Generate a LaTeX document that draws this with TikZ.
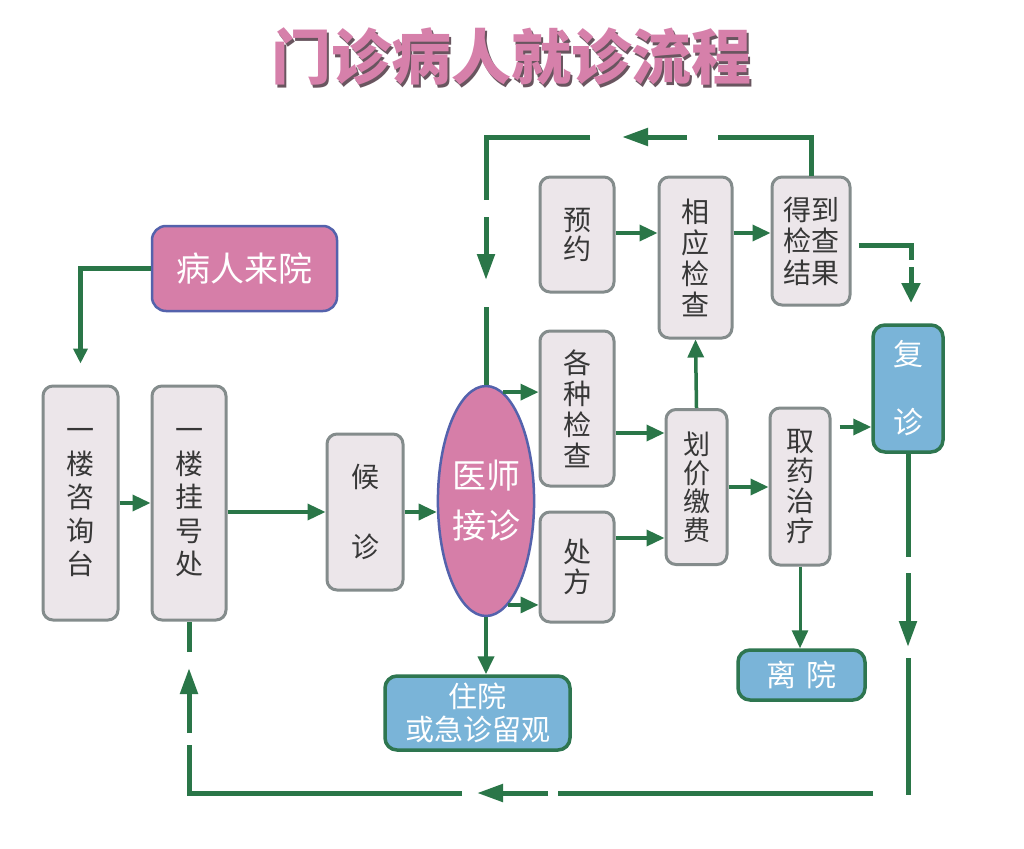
\documentclass[tikz,border=0pt]{standalone}
\usepackage{fontspec}
\newfontfamily\cjk{Noto Sans CJK SC}
\usetikzlibrary{arrows.meta,shapes.geometric}
\newcommand\fs[2]{\fontsize{#1}{#2}\selectfont}
\definecolor{lg}{RGB}{42,118,72}
\definecolor{gfill}{RGB}{236,230,234}
\definecolor{gborder}{RGB}{132,140,140}
\definecolor{gtext}{RGB}{55,55,55}
\definecolor{pfill}{RGB}{214,126,168}
\definecolor{pborder}{RGB}{84,98,172}
\definecolor{bfill}{RGB}{122,180,216}
\definecolor{bborder}{RGB}{46,118,80}
\definecolor{tpink}{RGB}{214,128,170}
\definecolor{tshadow}{RGB}{105,85,95}
\newcommand\shadowtext[1]{\makebox[0pt][l]{\hspace{2.5pt}\raisebox{-2.5pt}{\color{tshadow}#1}}#1}
\tikzset{
  gbox/.style={draw=gborder, fill=gfill, line width=3pt, rounded corners=10pt, inner sep=0pt, align=center, text=gtext},
  bbox/.style={draw=bborder, fill=bfill, line width=3.5pt, rounded corners=12pt, inner sep=0pt, align=center, text=white},
  pbox/.style={draw=pborder, fill=pfill, line width=2.5pt, inner sep=0pt, align=center, text=white},
  conn/.style={draw=lg, line width=3.5pt, -{Triangle[length=18pt,width=16pt]}},
  back/.style={draw=lg, line width=5pt},
  backarrow/.style={back, -{Triangle[length=26pt,width=17pt]}},
}
\begin{document}
\begin{tikzpicture}[x=1pt,y=-1pt]
\useasboundingbox[fill=white] (0,0) rectangle (1024,848);
% title
\node[font=\cjk\bfseries\fs{60}{62}, text=tpink] (title) at (511,58) {\shadowtext{门诊病人就诊流程}};
% nodes
\node[pbox, rounded corners=14pt, minimum width=185pt, minimum height=85pt, font=\cjk\fs{34}{40}] (br) at (244.5,268.5) {病人来院};
\node[gbox, minimum width=75pt, minimum height=234pt, font=\cjk\fs{28}{33.5}] (zx) at (80.5,503) {一\\楼\\咨\\询\\台};
\node[gbox, minimum width=74pt, minimum height=234pt, font=\cjk\fs{28}{33.5}] (gh) at (189,503) {一\\楼\\挂\\号\\处};
\node[gbox, minimum width=76pt, minimum height=156pt, font=\cjk\fs{28}{70}] (hz) at (365,512) {候\\诊};
\node[pbox, ellipse, minimum width=86pt, minimum height=230pt, font=\cjk\fs{34}{50}] (ys) at (486,501) {医师\\接诊};
\node[gbox, minimum width=74pt, minimum height=115pt, font=\cjk\fs{28}{29}] (yy) at (577,234.5) {预\\约};
\node[gbox, minimum width=73pt, minimum height=161pt, font=\cjk\fs{28}{31}] (xy) at (695.5,257.5) {相\\应\\检\\查};
\node[gbox, minimum width=78pt, minimum height=128pt, font=\cjk\fs{28}{31.5}] (dd) at (811,241) {得到\\检查\\结果};
\node[gbox, minimum width=74pt, minimum height=155pt, font=\cjk\fs{28}{31}] (gz) at (577,408.5) {各\\种\\检\\查};
\node[gbox, minimum width=74pt, minimum height=110pt, font=\cjk\fs{28}{30}] (cf) at (577,567) {处\\方};
\node[gbox, minimum width=61pt, minimum height=155pt, font=\cjk\fs{27}{28.5}] (hj) at (696.5,487) {划\\价\\缴\\费};
\node[gbox, minimum width=60pt, minimum height=157pt, font=\cjk\fs{28}{30}] (qy) at (800,486.5) {取\\药\\治\\疗};
\node[bbox, minimum width=70pt, minimum height=127pt, font=\cjk\fs{30}{68}] (fz) at (908,388.5) {复\\诊};
\node[bbox, minimum width=127pt, minimum height=50pt, font=\cjk\fs{30}{34}] (ly) at (801.5,675) {离\hspace{11pt}院};
\node[bbox, minimum width=185pt, minimum height=74pt, font=\cjk\fs{29}{33}] (zy) at (477.5,713) {住院\\或急诊留观};
% coordinates for broken loops
\coordinate (t1) at (718,137);
\coordinate (t2) at (687,137);
\coordinate (t3) at (622,137);
\coordinate (t4) at (590,137);
\coordinate (t5) at (486,200);
\coordinate (t6) at (486,217);
\coordinate (t7) at (486,280);
\coordinate (t8) at (486,307);
\coordinate (r1) at (908,557);
\coordinate (r2) at (908,573);
\coordinate (r3) at (908,647);
\coordinate (r4) at (908,658);
\coordinate (r5) at (908,795);
\coordinate (b1) at (873,793);
\coordinate (b2) at (558,793);
\coordinate (b3) at (548,793);
\coordinate (b4) at (477,793);
\coordinate (b5) at (462,793);
\coordinate (b6) at (189,745);
\coordinate (b7) at (189,733);
\coordinate (b8) at (189,668);
\coordinate (b9) at (189,652);
\coordinate (d1) at (911,245);
\coordinate (d2) at (911,260);
\coordinate (d3) at (911,267);
\coordinate (d4) at (911,303);
% connectors
\draw[back, -{Triangle[length=15pt,width=14pt]}, shorten >=21pt] (br.west) -| (zx.north);
\draw[conn] (zx.east |- 0,503) -- (gh.west |- 0,503);
\draw[conn] (gh.east |- hz.west) -- (hz.west);
\draw[conn] (hz.east) -- (ys.west |- hz.east);
\draw[conn] (ys.81) -- (gz.west |- ys.81);
\draw[conn] (ys.-78.5) -- (cf.west |- ys.-78.5);
\draw[conn] (gz.east |- 0,433) -- (hj.west |- 0,433);
\draw[conn] (cf.east |- 0,538) -- (hj.west |- 0,538);
\draw[conn] (hj.north) -- (xy.south);
\draw[conn] (yy.east |- 0,233) -- (xy.west |- 0,233);
\draw[conn] (xy.east |- 0,233) -- (dd.west |- 0,233);
\draw[conn] (hj.east |- 0,487) -- (qy.west |- 0,487);
\draw[conn, shorten <=8pt] (qy.east |- 0,427) -- (fz.west |- 0,427);
\draw[conn, line width=3pt] (qy.south) -- (qy.south |- ly.north);
\draw[conn, line width=4pt] (ys.south) -- (ys.south |- zy.north);
% 得到检查结果 -> 复诊
\draw[back, shorten <=7pt] (dd.east |- d1) -- (d1) -- (d2);
\draw[back, -{Triangle[length=20pt,width=18pt]}] (d3) -- (d4);
% top loop
\draw[back] (dd.north) |- (t1);
\draw[backarrow] (t2) -- (t3);
\draw[back] (t4) -| (t5);
\draw[backarrow] (t6) -- (t7);
\draw[back] (t8) -- (ys.north);
% right and bottom loop
\draw[back] (fz.south) -- (r1);
\draw[backarrow] (r2) -- (r3);
\draw[back] (r4) -- (r5);
\draw[back] (b1) -- (b2);
\draw[backarrow] (b3) -- (b4);
\draw[back] (b5) -| (b6);
\draw[backarrow] (b7) -- (b8);
\draw[back] (b9) -- (gh.south);
\end{tikzpicture}
\end{document}
